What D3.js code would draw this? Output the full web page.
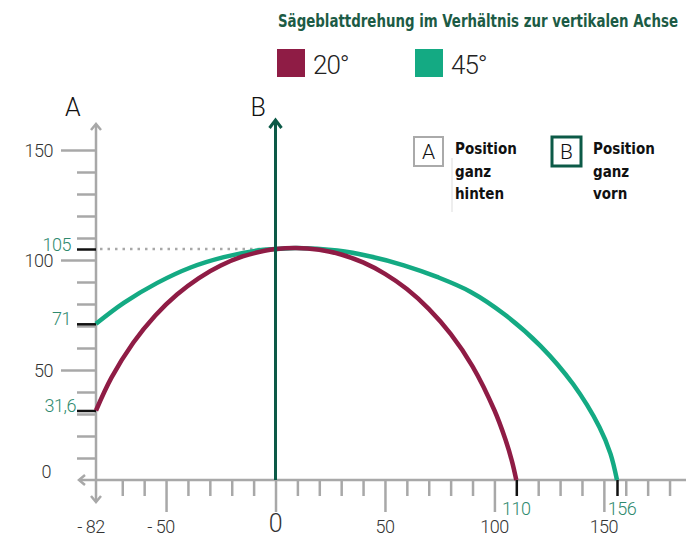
<!DOCTYPE html>
<html>
<head>
<meta charset="utf-8">
<script src="https://cdn.jsdelivr.net/npm/d3@7"></script>
<style>
  html, body { margin: 0; padding: 0; background: #fff; }
  svg { display: block; }
  .light { font-family: Roboto, "Liberation Sans", sans-serif; font-weight: 300; }
  .cond { font-family: "Liberation Sans Narrow", "DejaVu Sans Condensed", sans-serif; font-weight: bold; }
</style>
</head>
<body>
<svg class="chart" width="686" height="538"></svg>
<script>
// ---- Data ----
const title = "Sägeblattdrehung im Verhältnis zur vertikalen Achse";
const seriesNames = ["20°", "45°"];
const seriesColors = ["#8f1c45", "#14aa83"];

// 20° blade: [position along x, height]
const curve20 = [
    [-82, 31.6], [-75, 46.4], [-65, 62.4], [-55, 74.7], [-45, 84.3], [-35, 91.8],
    [-25, 97.5], [-15, 101.6], [-5, 104.2], [0, 105], [9, 105.5], [20, 104.7],
    [30, 102.5], [40, 98.9], [50, 93.7], [60, 86.8], [70, 77.8], [80, 66.4],
    [90, 51.7], [100, 31.7], [105, 18.5], [108, 8.6], [110, 0]
];
// 45° blade
const curve45 = [
    [-82, 71], [-69.3, 80.5], [-54, 89.6], [-38.8, 96.6], [-23.6, 101.3], [-8.4, 104.3],
    [0, 105], [10, 105.5], [28.2, 104.3], [43.4, 101.6], [58.6, 97.6], [73.8, 92.3],
    [89, 85.6], [105, 75], [121, 61], [136, 43.5], [148, 24], [153, 12], [156, 0]
];

const xMinorTicks = [-70, -60, -40, -30, -20, -10, 10, 20, 30, 40, 60, 70, 80, 90, 120, 130, 140, 160, 170, 180];
const xMajorTicks = [-50, 0, 50, 100, 150];
const xTickLabels = ["- 82", "- 50", "0", "50", "100", "150"];
const xLabelValues = [-82, -50, 0, 50, 100, 150];
const yMinorTicks = [10, 20, 30, 40, 60, 70, 80, 90, 110, 120, 130, 140];
const yMajorTicks = [50, 100, 150];
const yTickLabels = ["0", "50", "100", "150"];
const yLabelValues = [0, 50, 100, 150];

// marked values (black ticks, teal labels)
const yMarks = [105, 71, 31.6];
const yMarkLabels = ["105", "71", "31,6"];
const xMarks = [110, 156];
const xMarkLabels = ["110", "156"];

// ---- Scales ----
const svg = d3.select("svg.chart");
const x = d3.scaleLinear().domain([-82, 156]).range([96, 617]);
const y = d3.scaleLinear().domain([0, 150]).range([480, 150]);

const gray = "#a8a8a8";
const dark = "#0c5a47";
const markColor = "#2e8a6e";

// ---- Title & legend ----
// condensed look: draw at natural width, then squeeze to fit the space
const titleText = svg.append("text")
    .attr("class", "cond")
    .attr("font-size", 18)
    .attr("fill", "#1c5b45")
    .text(title);
const titleW = titleText.node().getComputedTextLength();
titleText.attr("transform", `translate(278, 27) scale(${400 / titleW}, 1)`);

const legend = svg.append("g").selectAll("g")
    .data(seriesNames)
    .join("g")
    .attr("transform", (d, i) => `translate(${277 + i * 138}, 49)`);
legend.append("rect")
    .attr("width", 28).attr("height", 28)
    .attr("fill", (d, i) => seriesColors[i]);
legend.append("text")
    .attr("class", "light")
    .attr("x", 36).attr("y", 25)
    .attr("font-size", 26)
    .attr("fill", "#222")
    .attr("letter-spacing", -1)
    .text(d => d);

// ---- Position key boxes ----
const keys = [
    {letter: "A", lines: ["Position", "ganz", "hinten"], stroke: "#aaa", sw: 2, x: 414},
    {letter: "B", lines: ["Position", "ganz", "vorn"], stroke: dark, sw: 3, x: 552}
];
// faint guide line next to key A
svg.append("line")
    .attr("x1", 452).attr("x2", 452).attr("y1", 158).attr("y2", 212)
    .attr("stroke", "#ddd").attr("stroke-width", 1);
const key = svg.append("g").selectAll("g")
    .data(keys)
    .join("g")
    .attr("transform", d => `translate(${d.x}, 137)`);
key.append("rect")
    .attr("width", 29).attr("height", 29)
    .attr("fill", "#fff")
    .attr("stroke", d => d.stroke)
    .attr("stroke-width", d => d.sw);
key.append("text")
    .attr("class", "light")
    .attr("x", 14.5).attr("y", 22)
    .attr("text-anchor", "middle")
    .attr("font-size", 21)
    .attr("fill", "#111")
    .text(d => d.letter);
key.append("text")
    .attr("class", "cond")
    .attr("font-size", 15)
    .attr("fill", "#111")
    .selectAll("tspan")
    .data(d => d.lines)
    .join("tspan")
    .attr("x", 41)
    .attr("y", (d, i) => 17 + i * 22.5)
    .text(d => d);

// ---- Axes ----
const axes = svg.append("g");
// x axis line with left arrow
axes.append("line")
    .attr("x1", 79).attr("x2", 686).attr("y1", y(0)).attr("y2", y(0))
    .attr("stroke", gray).attr("stroke-width", 2.5);
axes.append("path")
    .attr("d", `M${85},${y(0) - 5}L${79},${y(0)}L${85},${y(0) + 5}`)
    .attr("fill", "none").attr("stroke", gray).attr("stroke-width", 2.5);
// y axis line with top and bottom arrows
axes.append("line")
    .attr("x1", x(-82)).attr("x2", x(-82)).attr("y1", 124).attr("y2", 502)
    .attr("stroke", gray).attr("stroke-width", 2.5);
axes.append("path")
    .attr("d", `M${x(-82) - 5},130L${x(-82)},124L${x(-82) + 5},130`)
    .attr("fill", "none").attr("stroke", gray).attr("stroke-width", 2.5);
axes.append("path")
    .attr("d", `M${x(-82) - 5},496L${x(-82)},502L${x(-82) + 5},496`)
    .attr("fill", "none").attr("stroke", gray).attr("stroke-width", 2.5);

function styleAxis(g, color, width) {
    g.select(".domain").remove();
    g.selectAll(".tick line").attr("stroke", color).attr("stroke-width", width);
    g.selectAll(".tick text").remove();
}
axes.append("g")
    .attr("transform", `translate(0, ${y(0)})`)
    .call(d3.axisBottom(x).tickValues(xMinorTicks).tickSize(16).tickFormat(""))
    .call(g => styleAxis(g, gray, 2.5));
axes.append("g")
    .attr("transform", `translate(0, ${y(0)})`)
    .call(d3.axisBottom(x).tickValues(xMajorTicks).tickSize(32).tickFormat(""))
    .call(g => styleAxis(g, gray, 2.5));
axes.append("g")
    .attr("transform", `translate(0, ${y(0)})`)
    .call(d3.axisBottom(x).tickValues(xMarks).tickSize(16).tickFormat(""))
    .call(g => styleAxis(g, "#111", 2.5));
axes.append("g")
    .attr("transform", `translate(${x(-82)}, 0)`)
    .call(d3.axisLeft(y).tickValues(yMinorTicks).tickSize(19).tickFormat(""))
    .call(g => styleAxis(g, gray, 2.5));
axes.append("g")
    .attr("transform", `translate(${x(-82)}, 0)`)
    .call(d3.axisLeft(y).tickValues(yMajorTicks).tickSize(35).tickFormat(""))
    .call(g => styleAxis(g, gray, 2.5));
axes.append("g")
    .attr("transform", `translate(${x(-82)}, 0)`)
    .call(d3.axisLeft(y).tickValues(yMarks).tickSize(19).tickFormat(""))
    .call(g => styleAxis(g, "#111", 2.5));

// tick labels
svg.append("g").selectAll("text")
    .data(xTickLabels)
    .join("text")
    .attr("class", "light")
    .attr("x", (d, i) => x(xLabelValues[i]) + (xLabelValues[i] < 0 ? -5 : 0))
    .attr("y", (d, i) => xLabelValues[i] === 0 ? 532 : 533)
    .attr("text-anchor", "middle")
    .attr("font-size", (d, i) => xLabelValues[i] === 0 ? 25 : 18)
    .attr("letter-spacing", -0.5)
    .attr("fill", "#333")
    .text(d => d);
svg.append("g").selectAll("text")
    .data(yTickLabels)
    .join("text")
    .attr("class", "light")
    .attr("x", (d, i) => yLabelValues[i] === 0 ? 51 : 53)
    .attr("y", (d, i) => yLabelValues[i] === 0 ? 478 : y(yLabelValues[i]) + 7)
    .attr("text-anchor", "end")
    .attr("font-size", 18)
    .attr("letter-spacing", -0.5)
    .attr("fill", "#333")
    .text(d => d);
svg.append("g").selectAll("text")
    .data(yMarkLabels)
    .join("text")
    .attr("class", "light")
    .attr("x", (d, i) => i === 2 ? 76 : 71)
    .attr("y", (d, i) => y(yMarks[i]) + 1.5)
    .attr("text-anchor", "end")
    .attr("font-size", 18)
    .attr("letter-spacing", -0.5)
    .attr("fill", markColor)
    .text(d => d);
svg.append("g").selectAll("text")
    .data(xMarkLabels)
    .join("text")
    .attr("class", "light")
    .attr("x", (d, i) => x(xMarks[i]) + (i === 1 ? 5 : 0))
    .attr("y", 515)
    .attr("text-anchor", "middle")
    .attr("font-size", 18)
    .attr("letter-spacing", -0.5)
    .attr("fill", markColor)
    .text(d => d);

// dotted guide at the 105 peak
svg.append("line")
    .attr("x1", x(-82) + 4).attr("x2", x(0)).attr("y1", y(105)).attr("y2", y(105))
    .attr("stroke", gray).attr("stroke-width", 2.5)
    .attr("stroke-dasharray", "2.5 5");

// ---- A / B markers ----
svg.append("text").attr("class", "light")
    .attr("x", x(-82) - 31).attr("y", 116).attr("font-size", 25).attr("fill", "#111").text("A");
svg.append("text").attr("class", "light")
    .attr("x", x(0) - 25).attr("y", 116).attr("font-size", 25).attr("fill", "#111").text("B");

// ---- Curves ----
const line = d3.line()
    .x(d => x(d[0]))
    .y(d => y(d[1]))
    .curve(d3.curveCatmullRom.alpha(0.5));
svg.append("g").selectAll("path")
    .data([curve45, curve20])
    .join("path")
    .attr("d", line)
    .attr("fill", "none")
    .attr("stroke", (d, i) => seriesColors[1 - i])
    .attr("stroke-width", 4.5)
    .attr("stroke-linecap", "butt");

// B vertical arrow, on top
svg.append("line")
    .attr("x1", x(0)).attr("x2", x(0)).attr("y1", y(0)).attr("y2", 120)
    .attr("stroke", dark).attr("stroke-width", 3);
svg.append("path")
    .attr("d", `M${x(0) - 6},128L${x(0)},120L${x(0) + 6},128`)
    .attr("fill", "none").attr("stroke", dark).attr("stroke-width", 3);
</script>
</body>
</html>
